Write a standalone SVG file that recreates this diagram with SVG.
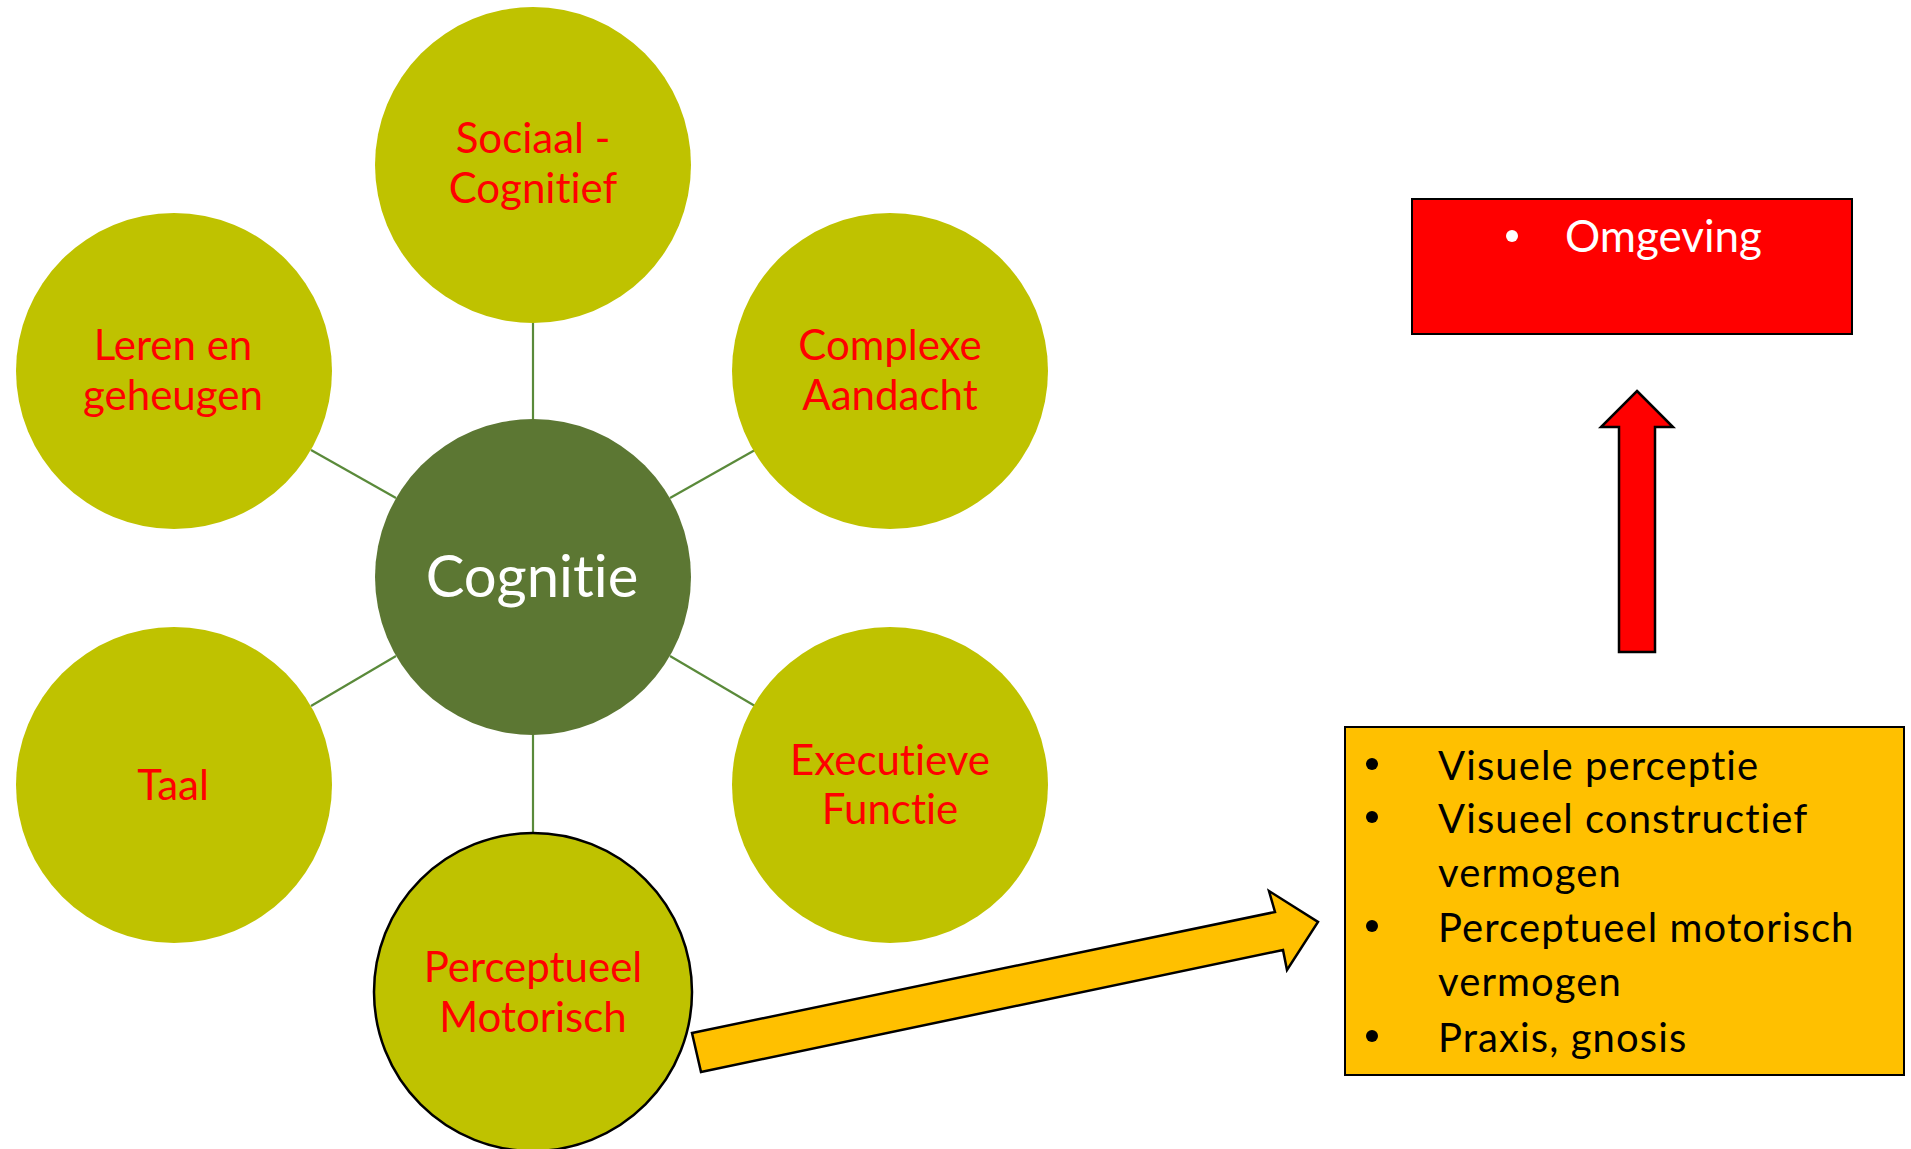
<svg xmlns="http://www.w3.org/2000/svg" width="1911" height="1149" viewBox="0 0 1911 1149">
  <style>
    text { font-family: Lato, "Open Sans", sans-serif; font-variant-ligatures: none; font-feature-settings: "liga" 0, "clig" 0; }
    .sat { fill: #BFC200; }
    .lbl { font-size: 42px; fill: #FF0000; text-anchor: middle; }
    .link { stroke: #5A8A3A; stroke-width: 2.2; fill: none; }
    .list { font-size: 40px; letter-spacing: 1.1px; fill: #000000; }
  </style>
  <rect width="1911" height="1149" fill="#FFFFFF"/>

  <!-- spokes from the hub to each satellite -->
  <g id="connectors">
    <line class="link" x1="533" y1="323" x2="533" y2="419"/>
    <line class="link" x1="311" y1="450" x2="396" y2="498"/>
    <line class="link" x1="755" y1="450" x2="670" y2="498"/>
    <line class="link" x1="311" y1="706" x2="396" y2="656"/>
    <line class="link" x1="755" y1="706" x2="670" y2="656"/>
    <line class="link" x1="533" y1="735" x2="533" y2="833"/>
  </g>

  <g id="hub">
    <circle cx="533" cy="577" r="158" fill="#5C7733"/>
    <text x="532" y="597" font-size="58" fill="#FFFFFF" text-anchor="middle">Cognitie</text>
  </g>

  <g id="sociaal">
    <circle class="sat" cx="533" cy="165" r="158"/>
    <text class="lbl" x="533" y="153">Sociaal -</text>
    <text class="lbl" x="533" y="203">Cognitief</text>
  </g>

  <g id="leren">
    <circle class="sat" cx="174" cy="371" r="158"/>
    <text class="lbl" x="173" y="360">Leren en</text>
    <text class="lbl" x="173" y="410">geheugen</text>
  </g>

  <g id="complexe">
    <circle class="sat" cx="890" cy="371" r="158"/>
    <text class="lbl" x="890" y="360">Complexe</text>
    <text class="lbl" x="890" y="410">Aandacht</text>
  </g>

  <g id="taal">
    <circle class="sat" cx="174" cy="785" r="158"/>
    <text class="lbl" x="173" y="800">Taal</text>
  </g>

  <g id="executieve">
    <circle class="sat" cx="890" cy="785" r="158"/>
    <text class="lbl" x="890" y="775">Executieve</text>
    <text class="lbl" x="890" y="824">Functie</text>
  </g>

  <g id="perceptueel">
    <circle class="sat" cx="533" cy="992" r="159" stroke="#000000" stroke-width="2.5"/>
    <text class="lbl" x="533" y="982">Perceptueel</text>
    <text class="lbl" x="533" y="1032">Motorisch</text>
  </g>

  <!-- block arrow towards the detail list -->
  <g id="arrow-detail">
    <polygon points="692,1033 1275,912 1269,891 1318,922 1287,970 1283,950 701,1072" fill="#FFC000" stroke="#000000" stroke-width="2.5" stroke-linejoin="miter"/>
  </g>

  <g id="detail-list">
    <rect x="1345" y="727" width="559" height="348" fill="#FFC000" stroke="#000000" stroke-width="2"/>
    <circle cx="1372" cy="764" r="6" fill="#000000"/>
    <circle cx="1372" cy="817" r="6" fill="#000000"/>
    <circle cx="1372" cy="926" r="6" fill="#000000"/>
    <circle cx="1372" cy="1036" r="6" fill="#000000"/>
    <text class="list" x="1438" y="780">Visuele perceptie</text>
    <text class="list" x="1438" y="833">Visueel constructief</text>
    <text class="list" x="1438" y="887">vermogen</text>
    <text class="list" x="1438" y="942">Perceptueel motorisch</text>
    <text class="list" x="1438" y="996">vermogen</text>
    <text class="list" x="1438" y="1052">Praxis, gnosis</text>
  </g>

  <!-- upward block arrow -->
  <g id="arrow-up">
    <polygon points="1637,391 1673,427 1655,427 1655,652 1619,652 1619,427 1601,427" fill="#FF0000" stroke="#000000" stroke-width="2.5"/>
  </g>

  <g id="omgeving">
    <rect x="1412" y="199" width="440" height="135" fill="#FF0000" stroke="#000000" stroke-width="2"/>
    <circle cx="1512" cy="236" r="6" fill="#FFFFFF"/>
    <text x="1565" y="252" font-size="44" fill="#FFFFFF">Omgeving</text>
  </g>
</svg>
